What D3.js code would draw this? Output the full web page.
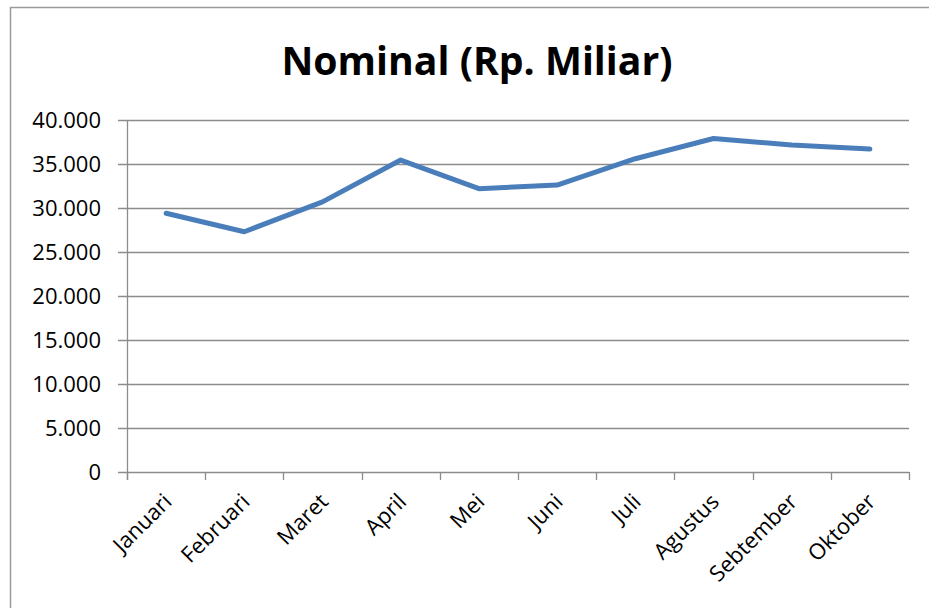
<!DOCTYPE html>
<html>
<head>
<meta charset="utf-8">
<script src="https://cdn.jsdelivr.net/npm/d3@7"></script>
<style>
  html, body { margin: 0; padding: 0; background: #fff; }
  svg { display: block; }
</style>
</head>
<body>
<div id="chart"></div>
<script>
const months = ["Januari", "Februari", "Maret", "April", "Mei", "Juni", "Juli", "Agustus", "Sebtember", "Oktober"];
const nominal = [29400, 27300, 30700, 35450, 32200, 32600, 35600, 37900, 37150, 36700];
const yTicks = [0, 5000, 10000, 15000, 20000, 25000, 30000, 35000, 40000];

const width = 929;
const height = 608;
const margin = {top: 120, right: 20, bottom: 136, left: 127};
const font = "'Open Sans', 'Liberation Sans', sans-serif";
const gridColor = "#8c8c8c";

const svg = d3.select("#chart").append("svg")
  .attr("width", width)
  .attr("height", height)
  .attr("viewBox", [0, 0, width, height]);

// chart frame (right and bottom edges fall outside the picture)
svg.append("rect")
  .attr("x", 10.5).attr("y", 7.5)
  .attr("width", 940).attr("height", 640)
  .attr("fill", "none")
  .attr("stroke", "#9a9a9a")
  .attr("stroke-width", 1.5);

svg.append("text")
  .attr("x", 477).attr("y", 75)
  .attr("text-anchor", "middle")
  .attr("font-family", font)
  .attr("font-weight", "bold")
  .attr("font-size", 39)
  .attr("textLength", 391)
  .attr("lengthAdjust", "spacingAndGlyphs")
  .attr("fill", "#000")
  .text("Nominal (Rp. Miliar)");

const x = d3.scaleBand()
  .domain(months)
  .range([margin.left, 909]);

const y = d3.scaleLinear()
  .domain([0, 40000])
  .range([472, margin.top]);

// gridlines
svg.append("g")
  .selectAll("line")
  .data(yTicks)
  .join("line")
    .attr("x1", margin.left - 9)
    .attr("x2", 909)
    .attr("y1", d => Math.round(y(d)) + 0.5)
    .attr("y2", d => Math.round(y(d)) + 0.5)
    .attr("stroke", gridColor)
    .attr("stroke-width", 1.3);

// y labels
svg.append("g")
  .selectAll("text")
  .data(yTicks)
  .join("text")
    .attr("x", 101)
    .attr("y", d => y(d))
    .attr("dy", "0.36em")
    .attr("text-anchor", "end")
    .attr("font-family", font)
    .attr("font-size", 22)
    .attr("fill", "#000")
    .text(d => d === 0 ? "0" : d3.format(",")(d).replace(/,/g, "."));

// y axis line
svg.append("line")
  .attr("x1", margin.left + 0.5).attr("x2", margin.left + 0.5)
  .attr("y1", margin.top).attr("y2", 480)
  .attr("stroke", gridColor)
  .attr("stroke-width", 1.3);

// x tick marks at category boundaries
const bounds = months.map(m => x(m)).concat([x.range()[1]]);
svg.append("g")
  .selectAll("line")
  .data(bounds)
  .join("line")
    .attr("x1", d => Math.round(d) + 0.5)
    .attr("x2", d => Math.round(d) + 0.5)
    .attr("y1", 472)
    .attr("y2", 480)
    .attr("stroke", gridColor)
    .attr("stroke-width", 1.3);

// x labels
svg.append("g")
  .selectAll("text")
  .data(months)
  .join("text")
    .attr("transform", d => `translate(${x(d) + x.bandwidth() / 2 + 7}, 503) rotate(-45)`)
    .attr("text-anchor", "end")
    .attr("font-family", font)
    .attr("font-size", 22)
    .attr("fill", "#000")
    .text(d => d);

// series line
svg.append("path")
  .datum(nominal)
  .attr("fill", "none")
  .attr("stroke", "#4a7ebb")
  .attr("stroke-width", 5)
  .attr("stroke-linejoin", "round")
  .attr("stroke-linecap", "round")
  .attr("d", d3.line()
    .x((d, i) => x(months[i]) + x.bandwidth() / 2)
    .y(d => y(d)));
</script>
</body>
</html>
